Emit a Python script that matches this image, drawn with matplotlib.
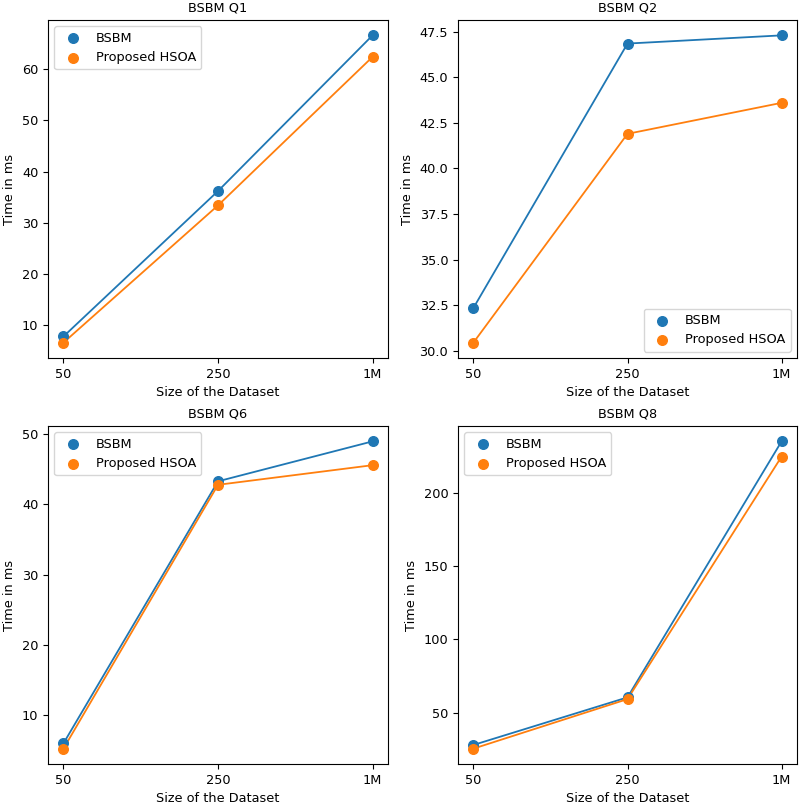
import matplotlib
matplotlib.use("Agg")
import matplotlib.pyplot as plt

sizes = ["50", "250", "1M"]
titles = ["BSBM Q1", "BSBM Q2", "BSBM Q6", "BSBM Q8"]
bsbm_q1 = [7.8, 36.2, 66.6]
hsoa_q1 = [6.6, 33.4, 62.4]
bsbm_q2 = [32.35, 46.85, 47.3]
hsoa_q2 = [30.45, 41.9, 43.6]
bsbm_q6 = [5.9, 43.3, 49.0]
hsoa_q6 = [5.15, 42.8, 45.6]
bsbm_q8 = [28.0, 60.5, 235.2]
hsoa_q8 = [25.5, 59.3, 224.8]
legend_locs = ["upper left", "lower right", "upper left", "upper left"]

series = [(bsbm_q1, hsoa_q1), (bsbm_q2, hsoa_q2), (bsbm_q6, hsoa_q6), (bsbm_q8, hsoa_q8)]

fs = 9.3
fig = plt.figure(figsize=(8.0, 8.07), dpi=100)
W, H = 800, 807
boxes = [(48, 20, 388, 358), (458, 20, 797, 358), (48, 426, 388, 764), (458, 426, 797, 764)]

x = list(range(len(sizes)))
for i, (b, h) in enumerate(series):
    x0, y0, x1, y1 = boxes[i]
    ax = fig.add_axes([x0 / W, 1 - y1 / H, (x1 - x0) / W, (y1 - y0) / H])
    ax.plot(x, b, color="#1f77b4", lw=1.3)
    ax.plot(x, h, color="#ff7f0e", lw=1.3)
    ax.scatter(x, b, color="#1f77b4", s=48, label="BSBM", zorder=3)
    ax.scatter(x, h, color="#ff7f0e", s=48, label="Proposed HSOA", zorder=3)
    ax.set_xticks(x)
    ax.set_xticklabels(sizes)
    ax.set_title(titles[i], fontsize=fs)
    ax.set_xlabel("Size of the Dataset", fontsize=fs)
    ax.set_ylabel("Time in ms", fontsize=fs)
    ax.tick_params(labelsize=fs)
    ax.legend(loc=legend_locs[i], fontsize=fs)

fig.savefig("out.png", dpi=100)
